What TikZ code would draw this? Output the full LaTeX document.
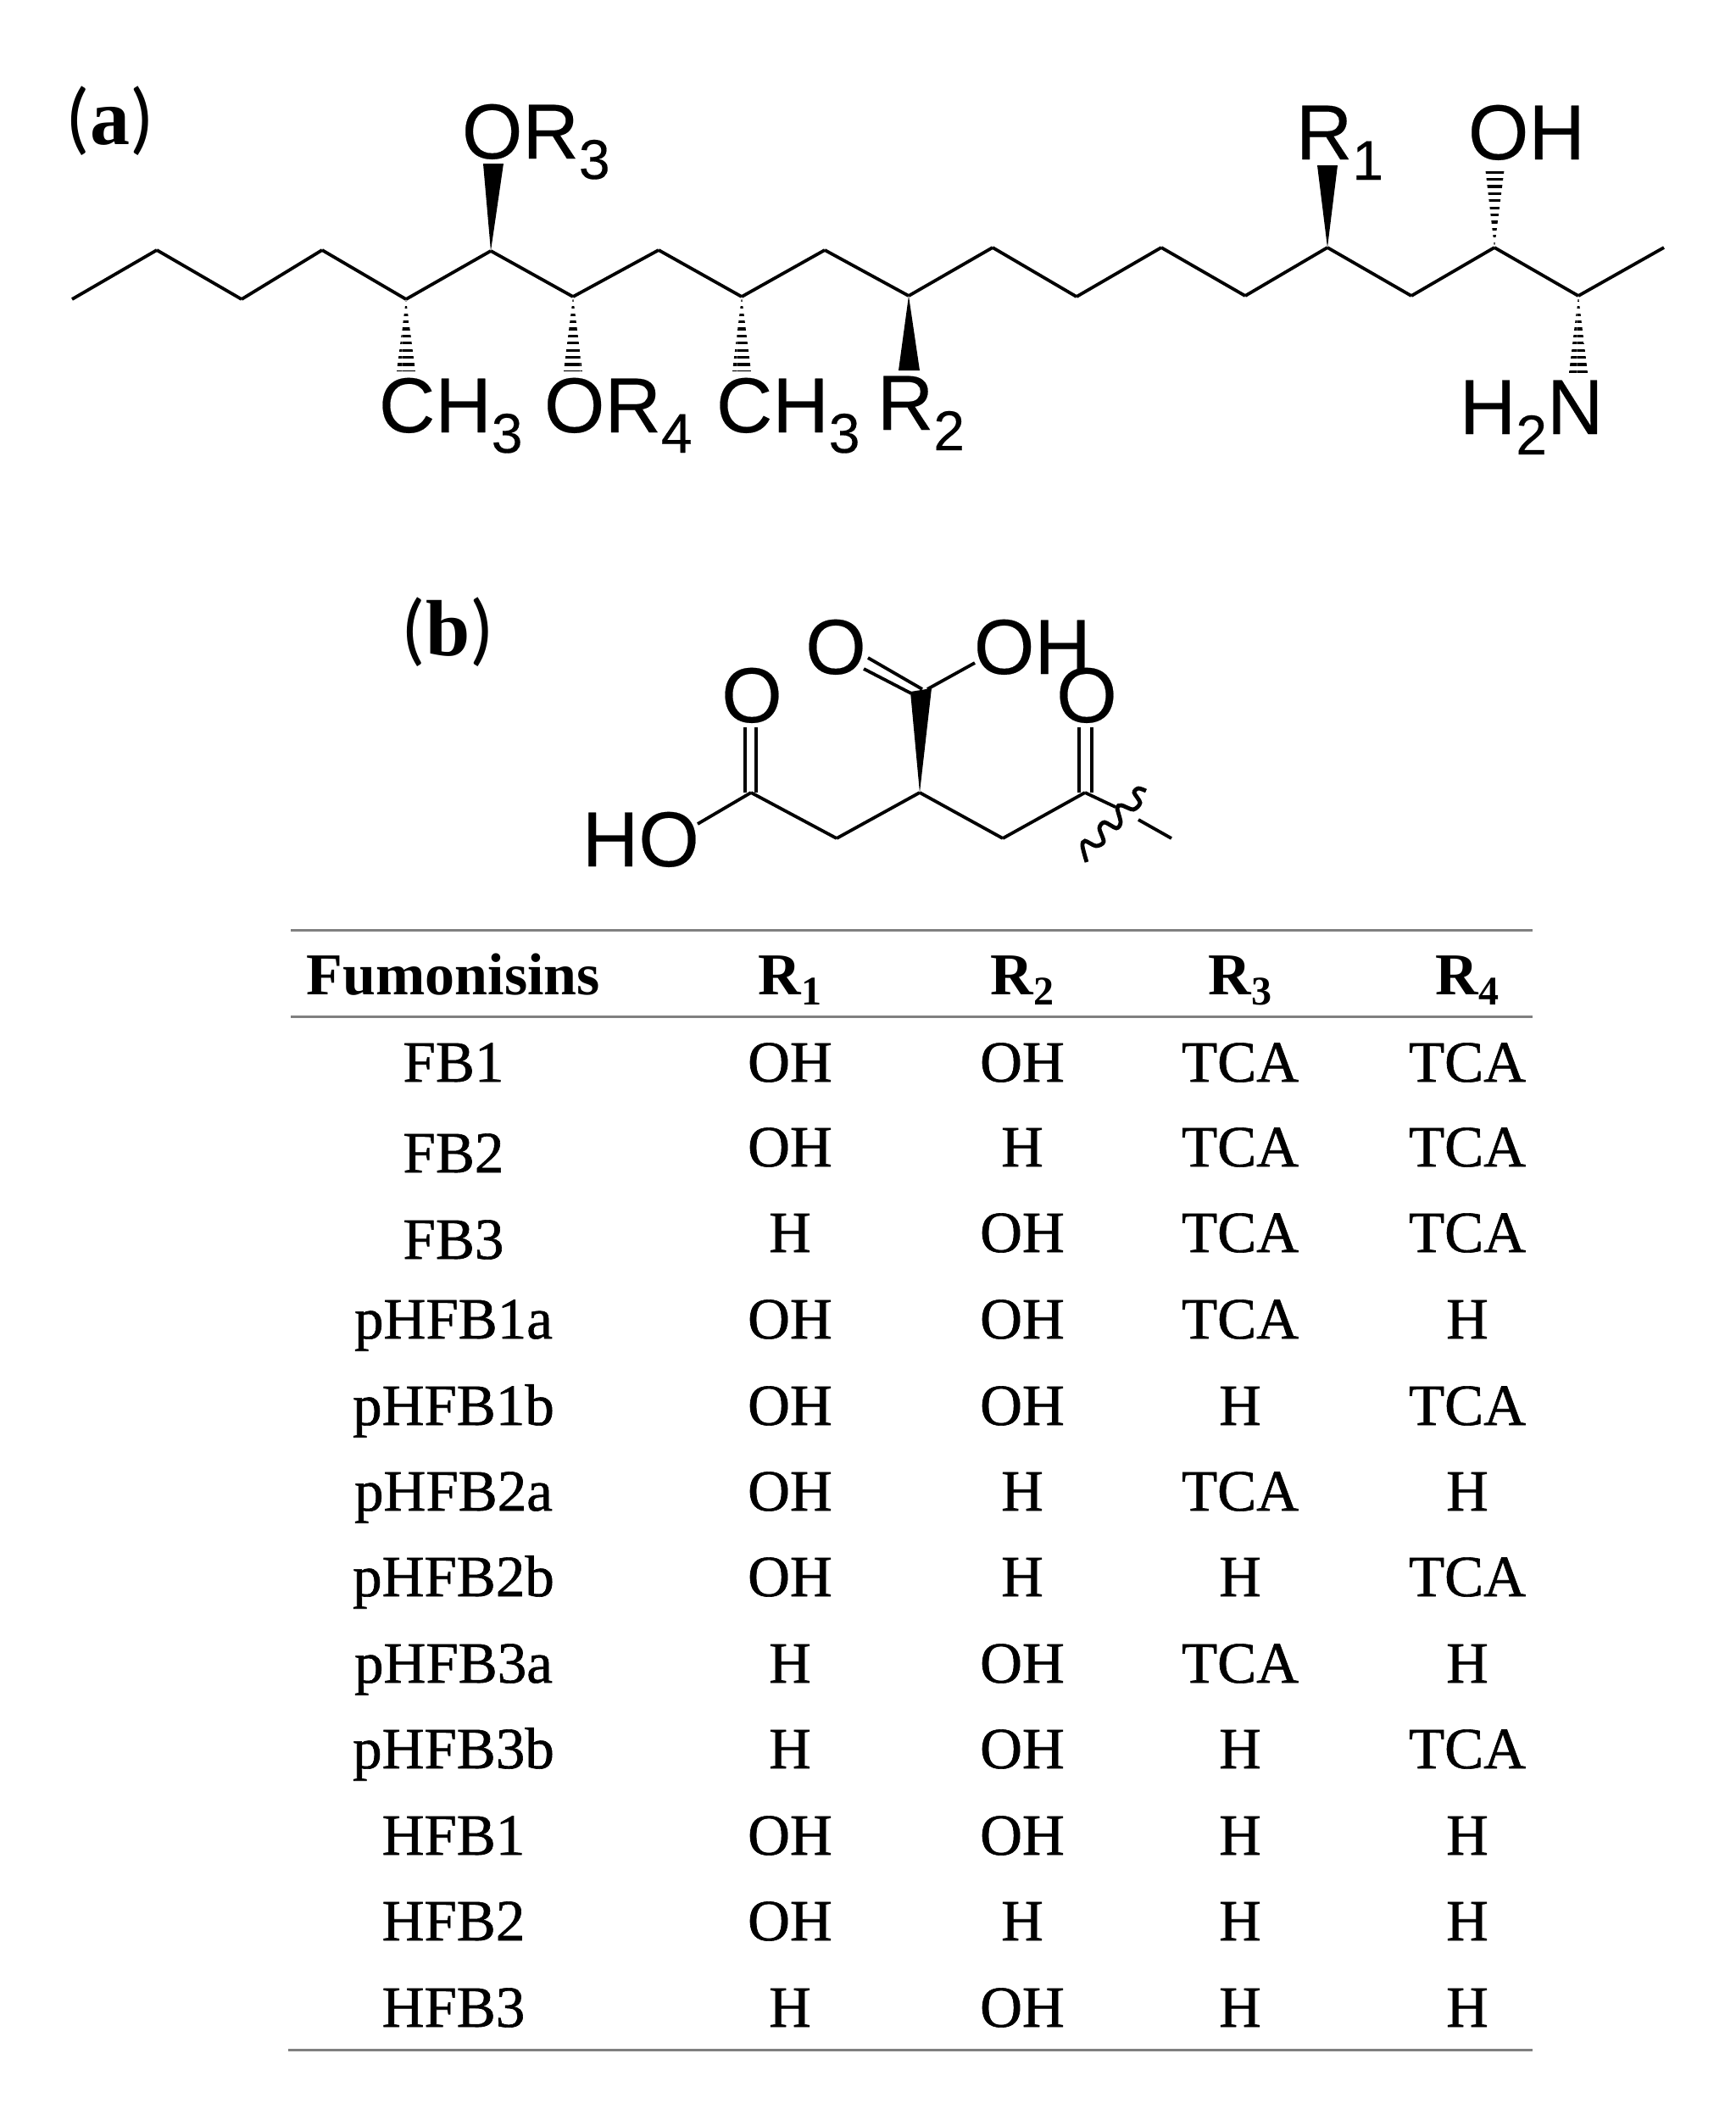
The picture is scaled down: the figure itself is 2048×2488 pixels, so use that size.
\documentclass[tikz,border=0pt]{standalone}
\usepackage{fontspec}
\setmainfont{Liberation Serif}
\newfontfamily\chemfont[FakeBold=0.25]{Liberation Sans}
\newfontfamily\cellfont[FakeBold=0.9]{Liberation Serif}
\newfontfamily\parenfont{Carlito}
\usetikzlibrary{patterns.meta}
\newcommand{\lsub}[1]{\raisebox{-6pt}{\fontsize{16.5}{16.5}\selectfont #1}}
\newcommand{\hsub}[1]{\raisebox{-3pt}{\fontsize{12}{12}\selectfont #1}}
\newcommand{\plabel}[1]{{\parenfont(}{\bfseries #1}{\parenfont)}}

\begin{document}
\begin{tikzpicture}[x=0.25pt, y=-0.25pt, line width=0.95pt,
  lab/.style={inner sep=0, font=\chemfont\fontsize{23}{23}\selectfont},
  cell/.style={inner sep=0, anchor=base, font=\cellfont\fontsize{17.25}{17.25}\selectfont},
  head/.style={inner sep=0, anchor=base, font=\bfseries\fontsize{17.5}{17.5}\selectfont},
  panel/.style={inner sep=0, anchor=base west, font=\fontsize{23.5}{23.5}\selectfont},
  hash/.style={pattern={Lines[angle=0,distance=2.1pt,line width=0.8pt]}},
  rule/.style={gray, line width=0.75pt}]
\useasboundingbox (0, 0) rectangle (2048, 2488);
\node[panel] (a) at (76, 170) {\plabel{a}};
\node[panel] (b) at (472, 773) {\plabel{b}};
%% main chain
\coordinate (1) at (85, 353);
\coordinate (2) at (185, 295);
\coordinate (3) at (285, 353);
\coordinate (4) at (380, 295);
\coordinate (5) at (479, 353);
\coordinate (6) at (579, 296);
\coordinate (7) at (676, 350);
\coordinate (8) at (777, 295);
\coordinate (9) at (875, 350);
\coordinate (10) at (973, 295);
\coordinate (11) at (1072, 349);
\coordinate (12) at (1171, 292);
\coordinate (13) at (1270, 350);
\coordinate (14) at (1370, 292);
\coordinate (15) at (1469, 349);
\coordinate (16) at (1566, 292);
\coordinate (17) at (1665, 349);
\coordinate (18) at (1763, 292);
\coordinate (19) at (1862, 349);
\coordinate (20) at (1963, 292);
\draw (1) -- (2);
\draw (2) -- (3);
\draw (3) -- (4);
\draw (4) -- (5);
\draw (5) -- (6);
\draw (6) -- (7);
\draw (7) -- (8);
\draw (8) -- (9);
\draw (9) -- (10);
\draw (10) -- (11);
\draw (11) -- (12);
\draw (12) -- (13);
\draw (13) -- (14);
\draw (14) -- (15);
\draw (15) -- (16);
\draw (16) -- (17);
\draw (17) -- (18);
\draw (18) -- (19);
\draw (19) -- (20);
%% wedges
\fill (6) -- (570, 193) -- (594, 193) -- cycle;
\fill (16) -- (1554, 195) -- (1578, 195) -- cycle;
\fill (11) -- (1060, 437) -- (1085, 437) -- cycle;
\path[hash] (5) -- (468, 438) -- (490, 438) -- cycle;
\path[hash] (7) -- (665, 438) -- (687, 438) -- cycle;
\path[hash] (9) -- (864, 438) -- (886, 438) -- cycle;
\path[hash] (18) -- (1752, 197) -- (1775, 197) -- cycle;
\path[hash] (19) -- (1851, 440) -- (1873, 440) -- cycle;
%% substituents
\node[lab, anchor=base west] (or3) at (543, 187) {OR\lsub{3}};
\node[lab, anchor=base west] (r1) at (1527, 188) {R\lsub{1}};
\node[lab, anchor=base west] (oh) at (1730, 188) {OH};
\node[lab, anchor=base west] (ch3a) at (445, 510) {CH\lsub{3}};
\node[lab, anchor=base west] (or4) at (640, 510) {OR\lsub{4}};
\node[lab, anchor=base west] (ch3b) at (843, 510) {CH\lsub{3}};
\node[lab, anchor=base west] (r2) at (1033, 507) {R\lsub{2}};
\node[lab, anchor=base west] (h2n) at (1720, 512) {H\lsub{2}N};
%% side chain
\node[lab, anchor=base] (o1) at (986, 795) {O};
\node[lab, anchor=base west] (oh2) at (1147, 795) {OH};
\node[lab, anchor=base] (o2) at (887, 852) {O};
\node[lab, anchor=base] (o3) at (1282, 852) {O};
\node[lab, anchor=base west] (ho) at (685, 1022) {HO};
\coordinate (21) at (823, 972);
\coordinate (22) at (886, 935);
\coordinate (23) at (987, 989);
\coordinate (24) at (1085, 935);
\coordinate (25) at (1183, 989);
\coordinate (26) at (1280, 935);
\coordinate (27) at (1316, 952);
\coordinate (28) at (1343, 967);
\coordinate (29) at (1382, 989);
\coordinate (30) at (1094, 813);
\coordinate (31) at (1150, 782);
\draw (21) -- (22);
\draw (22) -- (23);
\draw (23) -- (24);
\draw (24) -- (25);
\draw (25) -- (26);
\draw (26) -- (27);
\draw (28) -- (29);
\draw (30) -- (31);
\fill (24) -- (1074, 816) -- (1099, 812) -- cycle;
%% double bonds
\draw (879, 858) -- (879, 935);
\draw (892, 858) -- (892, 935);
\draw (1273, 858) -- (1273, 935);
\draw (1288, 858) -- (1288, 935);
\draw (1024, 776) -- (1088, 813);
\draw (1019, 789) -- (1075, 818);
\draw[line width=1.2pt] plot[smooth] coordinates {(1352, 933) (1343, 930) (1338, 935) (1345, 947) (1337, 955) (1323, 950) (1318, 953) (1322, 970) (1317, 977) (1303, 970) (1297, 977) (1302, 993) (1293, 998) (1280, 992) (1277, 998) (1282, 1017)};
%% table rules
\coordinate (t1) at (343, 1097);
\coordinate (t2) at (1808, 1097);
\coordinate (t3) at (343, 1199);
\coordinate (t4) at (1808, 1199);
\coordinate (t5) at (340, 2418);
\coordinate (t6) at (1808, 2418);
\draw[rule] (t1) -- (t2);
\draw[rule] (t3) -- (t4);
\draw[rule] (t5) -- (t6);
%% header
\node[head] (h1) at (535, 1173) {Fumonisins};
\node[head] (h2) at (932, 1173) {R\hsub{1}};
\node[head] (h3) at (1206, 1173) {R\hsub{2}};
\node[head] (h4) at (1463, 1173) {R\hsub{3}};
\node[head] (h5) at (1731, 1173) {R\hsub{4}};
%% rows
\node[cell] (c11) at (535, 1276) {FB1};
\node[cell] (c12) at (932, 1276) {OH};
\node[cell] (c13) at (1206, 1276) {OH};
\node[cell] (c14) at (1463, 1276) {TCA};
\node[cell] (c15) at (1731, 1276) {TCA};
\node[cell] (c21) at (535, 1383) {FB2};
\node[cell] (c22) at (932, 1376) {OH};
\node[cell] (c23) at (1206, 1376) {H};
\node[cell] (c24) at (1463, 1376) {TCA};
\node[cell] (c25) at (1731, 1376) {TCA};
\node[cell] (c31) at (535, 1485) {FB3};
\node[cell] (c32) at (932, 1477) {H};
\node[cell] (c33) at (1206, 1477) {OH};
\node[cell] (c34) at (1463, 1477) {TCA};
\node[cell] (c35) at (1731, 1477) {TCA};
\node[cell] (c41) at (535, 1579) {pHFB1a};
\node[cell] (c42) at (932, 1579) {OH};
\node[cell] (c43) at (1206, 1579) {OH};
\node[cell] (c44) at (1463, 1579) {TCA};
\node[cell] (c45) at (1731, 1579) {H};
\node[cell] (c51) at (535, 1681) {pHFB1b};
\node[cell] (c52) at (932, 1681) {OH};
\node[cell] (c53) at (1206, 1681) {OH};
\node[cell] (c54) at (1463, 1681) {H};
\node[cell] (c55) at (1731, 1681) {TCA};
\node[cell] (c61) at (535, 1782) {pHFB2a};
\node[cell] (c62) at (932, 1782) {OH};
\node[cell] (c63) at (1206, 1782) {H};
\node[cell] (c64) at (1463, 1782) {TCA};
\node[cell] (c65) at (1731, 1782) {H};
\node[cell] (c71) at (535, 1883) {pHFB2b};
\node[cell] (c72) at (932, 1883) {OH};
\node[cell] (c73) at (1206, 1883) {H};
\node[cell] (c74) at (1463, 1883) {H};
\node[cell] (c75) at (1731, 1883) {TCA};
\node[cell] (c81) at (535, 1985) {pHFB3a};
\node[cell] (c82) at (932, 1985) {H};
\node[cell] (c83) at (1206, 1985) {OH};
\node[cell] (c84) at (1463, 1985) {TCA};
\node[cell] (c85) at (1731, 1985) {H};
\node[cell] (c91) at (535, 2086) {pHFB3b};
\node[cell] (c92) at (932, 2086) {H};
\node[cell] (c93) at (1206, 2086) {OH};
\node[cell] (c94) at (1463, 2086) {H};
\node[cell] (c95) at (1731, 2086) {TCA};
\node[cell] (c101) at (535, 2188) {HFB1};
\node[cell] (c102) at (932, 2188) {OH};
\node[cell] (c103) at (1206, 2188) {OH};
\node[cell] (c104) at (1463, 2188) {H};
\node[cell] (c105) at (1731, 2188) {H};
\node[cell] (c111) at (535, 2289) {HFB2};
\node[cell] (c112) at (932, 2289) {OH};
\node[cell] (c113) at (1206, 2289) {H};
\node[cell] (c114) at (1463, 2289) {H};
\node[cell] (c115) at (1731, 2289) {H};
\node[cell] (c121) at (535, 2391) {HFB3};
\node[cell] (c122) at (932, 2391) {H};
\node[cell] (c123) at (1206, 2391) {OH};
\node[cell] (c124) at (1463, 2391) {H};
\node[cell] (c125) at (1731, 2391) {H};
\end{tikzpicture}
\end{document}
